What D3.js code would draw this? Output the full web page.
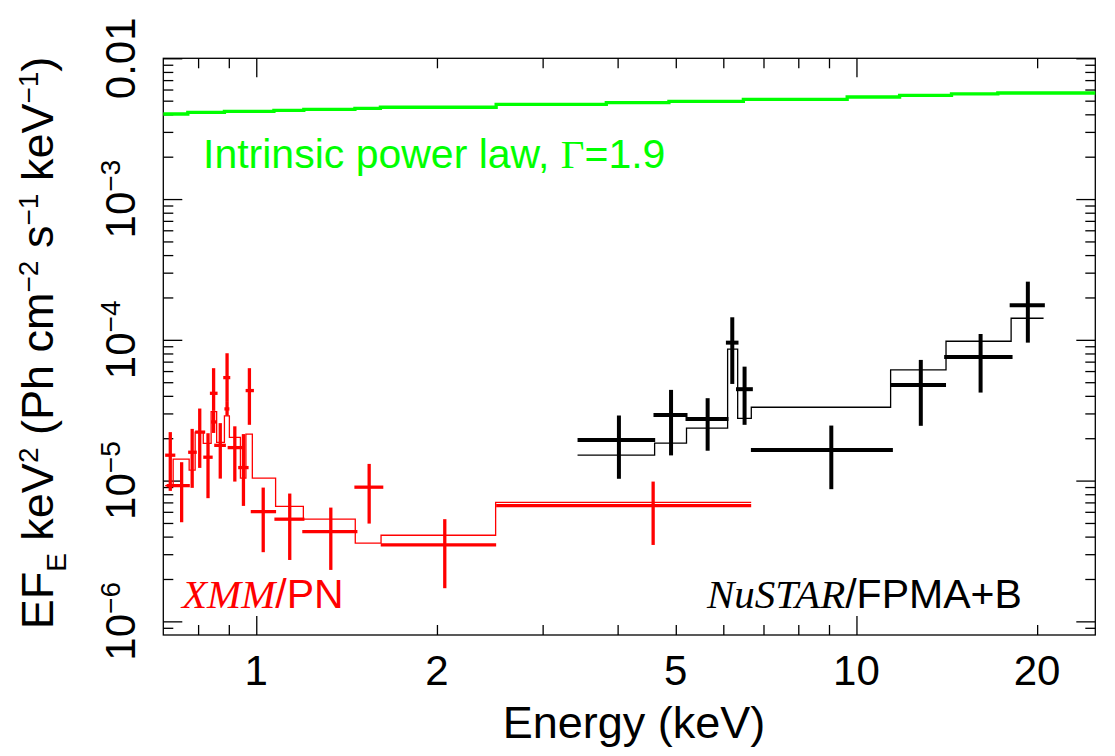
<!DOCTYPE html>
<html>
<head>
<meta charset="utf-8">
<script src="https://cdn.jsdelivr.net/npm/d3@7"></script>
<style>
  body { margin: 0; background: #fff; }
  figure { margin: 0; }
  svg { display: block; font-family: "Liberation Sans", Arial, sans-serif; }
</style>
</head>
<body>
<figure></figure>
<script>
// XMM/PN data points (keV, EF_E)
const xmmE   = [0.719, 0.751, 0.782, 0.805, 0.831, 0.849, 0.849, 0.871, 0.894, 0.894, 0.921, 0.952, 0.974, 1.027, 1.137, 1.331, 1.542, 2.061, 4.584]
const xmmELo = [0.705, 0.709, 0.770, 0.791, 0.816, 0.837, 0.841, 0.851, 0.881, 0.885, 0.896, 0.933, 0.960, 0.979, 1.072, 1.193, 1.457, 1.612, 2.510]
const xmmEHi = [0.733, 0.775, 0.796, 0.822, 0.846, 0.862, 0.859, 0.890, 0.905, 0.902, 0.947, 0.971, 0.991, 1.079, 1.203, 1.474, 1.628, 2.510, 6.677]
const xmmF   = [1.515e-5, 9.21e-6, 1.59e-5, 2.21e-5, 1.466e-5, 4.17e-5, 2.61e-5, 1.78e-5, 5.39e-5, 3.23e-5, 1.715e-5, 1.237e-5, 4.36e-5, 6.02e-6, 5.32e-6, 4.34e-6, 8.98e-6, 3.49e-6, 6.65e-6]
const xmmFLo = [8.45e-6, 5.06e-6, 8.88e-6, 1.231e-5, 7.50e-6, 3.13e-5, 2.18e-5, 1.033e-5, 3.62e-5, 2.89e-5, 9.84e-6, 6.61e-6, 2.49e-5, 3.10e-6, 2.73e-6, 2.32e-6, 4.95e-6, 1.72e-6, 3.49e-6]
const xmmFHi = [2.21e-5, 1.351e-5, 2.33e-5, 3.25e-5, 2.17e-5, 6.29e-5, 3.13e-5, 2.56e-5, 8.03e-5, 3.62e-5, 2.43e-5, 2.14e-5, 6.29e-5, 8.92e-6, 8.09e-6, 6.43e-6, 1.314e-5, 5.32e-6, 9.84e-6]

// NuSTAR/FPMA+B data points
const nuE   = [4.02, 4.91, 5.65, 6.21, 6.51, 9.08, 12.8, 16.1, 19.3]
const nuELo = [3.43, 4.59, 5.19, 6.06, 6.30, 6.67, 11.4, 14.0, 18.0]
const nuEHi = [4.62, 5.23, 6.12, 6.36, 6.72, 11.5, 14.1, 18.2, 20.6]
const nuF   = [1.945e-5, 2.93e-5, 2.74e-5, 9.55e-5, 4.46e-5, 1.65e-5, 4.78e-5, 7.56e-5, 1.76e-4]
const nuFLo = [1.03e-5, 1.51e-5, 1.63e-5, 4.86e-5, 2.49e-5, 8.69e-6, 2.45e-5, 4.22e-5, 9.55e-5]
const nuFHi = [2.90e-5, 4.41e-5, 3.85e-5, 1.446e-4, 6.45e-5, 2.46e-5, 7.20e-5, 1.10e-4, 2.59e-4]

// folded models (bin edges + value per bin)
const xmmModelEdges = [0.705, 0.727, 0.773, 0.791, 0.816, 0.841, 0.859, 0.885, 0.902, 0.941, 0.961, 0.985, 1.077, 1.198, 1.462, 1.614, 2.505, 6.677]
const xmmModelF     = [9.21e-6, 1.419e-5, 1.186e-5, 2.21e-5, 1.84e-5, 3.09e-5, 1.87e-5, 2.88e-5, 2.03e-5, 1.04e-5, 2.14e-5, 1.04e-5, 6.56e-6, 5.32e-6, 3.59e-6, 4.09e-6, 7.00e-6]
const nuModelEdges  = [3.43, 4.61, 5.21, 6.10, 6.34, 6.68, 11.4, 14.1, 18.1, 20.5]
const nuModelF      = [1.515e-5, 1.845e-5, 2.36e-5, 8.58e-5, 2.77e-5, 3.32e-5, 6.11e-5, 9.77e-5, 1.423e-4]

// intrinsic power law, binned
const plEdges = [0.70, 0.769, 0.885, 1.07, 1.20, 1.46, 1.61, 2.51, 3.83, 4.87, 6.48, 9.65, 11.8, 14.4, 17.2, 25]
const plF     = [4.02e-3, 4.13e-3, 4.20e-3, 4.27e-3, 4.34e-3, 4.41e-3, 4.49e-3, 4.71e-3, 4.84e-3, 4.95e-3, 5.11e-3, 5.31e-3, 5.46e-3, 5.58e-3, 5.67e-3]

// ticks
const xMajor  = [1, 10]
const xMinor  = [0.8, 0.9, 2, 3, 4, 5, 6, 7, 8, 9, 20]
const xLabels = [1, 2, 5, 10, 20]
const yMajor  = [1e-6, 1e-5, 1e-4, 1e-3, 1e-2]
const yLabels = ['10|−6', '10|−5', '10|−4', '10|−3', '0.01']


const W = 1115, H = 756
const plot = {left: 163.3, right: 1095.3, top: 58.3, bottom: 635}

const svg = d3.select('figure')
    .append('svg')
        .attr('width', W)
        .attr('height', H)

const x = d3.scaleLog().domain([0.7, 25]).range([plot.left, plot.right])
const y = d3.scaleLog().domain([8e-7, 0.01]).range([plot.bottom, plot.top])

let yMinor = []
yMajor.forEach(d => { for (let k = 2; k < 10; k++) if (d * k < 0.01) yMinor.push(d * k) })
yMinor.push(9e-7)

// ---- axes: ticks inward on all four sides
function ticks(axis, vals, size, transform) {
  svg.append('g')
      .attr('transform', transform)
      .call(axis.tickValues(vals).tickSize(-size).tickFormat(''))
      .call(g => g.select('.domain').remove())
      .selectAll('line')
          .attr('stroke', '#000')
          .attr('stroke-width', 1.3)
}
ticks(d3.axisBottom(x), xMajor, 19, `translate(0,${plot.bottom})`)
ticks(d3.axisBottom(x), xMinor, 10, `translate(0,${plot.bottom})`)
ticks(d3.axisTop(x), xMajor, 19, `translate(0,${plot.top})`)
ticks(d3.axisTop(x), xMinor, 10, `translate(0,${plot.top})`)
ticks(d3.axisLeft(y), yMajor, 19, `translate(${plot.left},0)`)
ticks(d3.axisLeft(y), yMinor, 10, `translate(${plot.left},0)`)
ticks(d3.axisRight(y), yMajor, 19, `translate(${plot.right},0)`)
ticks(d3.axisRight(y), yMinor, 10, `translate(${plot.right},0)`)

svg.append('rect')
    .attr('x', plot.left)
    .attr('y', plot.top)
    .attr('width', plot.right - plot.left)
    .attr('height', plot.bottom - plot.top)
    .attr('fill', 'none')
    .attr('stroke', '#000')
    .attr('stroke-width', 1.3)

// x tick labels
svg.append('g')
  .selectAll('text')
  .data(xLabels)
  .join('text')
      .attr('x', d => x(d))
      .attr('y', 685)
      .attr('text-anchor', 'middle')
      .attr('font-size', 42)
      .text(d => d)

// y tick labels, rotated
yMajor.forEach((v, i) => {
  const parts = yLabels[i].split('|')
  const t = svg.append('text')
      .attr('transform', `translate(135,${y(v)}) rotate(-90)`)
      .attr('text-anchor', 'middle')
      .attr('font-size', 42)
  t.append('tspan').text(parts[0])
  if (parts[1]) t.append('tspan').attr('dy', -15).attr('font-size', 28).text(parts[1])
})

// axis titles
svg.append('text')
    .attr('x', 634)
    .attr('y', 738)
    .attr('text-anchor', 'middle')
    .attr('font-size', 45)
    .text('Energy (keV)')

const yTitle = [['EF', 0, 45], ['E', 13, 28], [' keV', -13, 45], ['2', -15, 28], [' (Ph cm', 15, 45],
                ['−2', -15, 28], [' s', 15, 45], ['−1', -15, 28], [' keV', 15, 45], ['−1', -15, 28], [')', 15, 45]]
const yt = svg.append('text')
    .attr('transform', 'translate(53,343) rotate(-90)')
    .attr('text-anchor', 'middle')
yTitle.forEach(p => yt.append('tspan').attr('dy', p[1]).attr('font-size', p[2]).text(p[0]))

// ---- step curves
const step = d3.line()
    .curve(d3.curveStepAfter)
    .x(d => x(d[0]))
    .y(d => y(d[1]))

function steps(edges, vals) {
  return edges.map((e, i) => [e, vals[Math.min(i, vals.length - 1)]])
}

svg.append('path')
    .attr('d', step(steps(plEdges, plF)))
    .attr('fill', 'none')
    .attr('stroke', '#00ff00')
    .attr('stroke-width', 3.3)

svg.append('path')
    .attr('d', step(steps(xmmModelEdges, xmmModelF)))
    .attr('fill', 'none')
    .attr('stroke', '#ff0000')
    .attr('stroke-width', 1.3)

svg.append('path')
    .attr('d', step(steps(nuModelEdges, nuModelF)))
    .attr('fill', 'none')
    .attr('stroke', '#000')
    .attr('stroke-width', 1.3)

// ---- error crosses
function crosses(e, eLo, eHi, f, fLo, fHi, colour, w) {
  const g = svg.append('g').attr('stroke', colour).attr('stroke-width', w)
  const idx = d3.range(e.length)
  g.selectAll('line.h')
    .data(idx)
    .join('line')
      .attr('class', 'h')
      .attr('x1', i => x(eLo[i]))
      .attr('x2', i => x(eHi[i]))
      .attr('y1', i => y(f[i]))
      .attr('y2', i => y(f[i]))
  g.selectAll('line.v')
    .data(idx)
    .join('line')
      .attr('class', 'v')
      .attr('x1', i => x(e[i]))
      .attr('x2', i => x(e[i]))
      .attr('y1', i => y(fLo[i]))
      .attr('y2', i => y(fHi[i]))
}
crosses(xmmE, xmmELo, xmmEHi, xmmF, xmmFLo, xmmFHi, '#ff0000', 3.3)
crosses(nuE, nuELo, nuEHi, nuF, nuFLo, nuFHi, '#000', 4)

// ---- labels in the panel
const pl = svg.append('text')
    .attr('x', 203)
    .attr('y', 168)
    .attr('font-size', 41)
    .attr('fill', '#00ff00')
pl.append('tspan').text('Intrinsic power law, ')
pl.append('tspan').attr('font-family', '"Liberation Serif", serif').text('Γ')
pl.append('tspan').text('=1.9')

const xl = svg.append('text')
    .attr('x', 182)
    .attr('y', 608)
    .attr('font-size', 41)
    .attr('fill', '#ff0000')
xl.append('tspan').attr('font-family', '"Liberation Serif", serif').attr('font-style', 'italic').text('XMM')
xl.append('tspan').text('/PN')

const nl = svg.append('text')
    .attr('x', 707)
    .attr('y', 608)
    .attr('font-size', 41)
    .attr('fill', '#000')
nl.append('tspan').attr('font-family', '"Liberation Serif", serif').attr('font-style', 'italic').text('NuSTAR')
nl.append('tspan').text('/FPMA+B')
</script>
</body>
</html>
